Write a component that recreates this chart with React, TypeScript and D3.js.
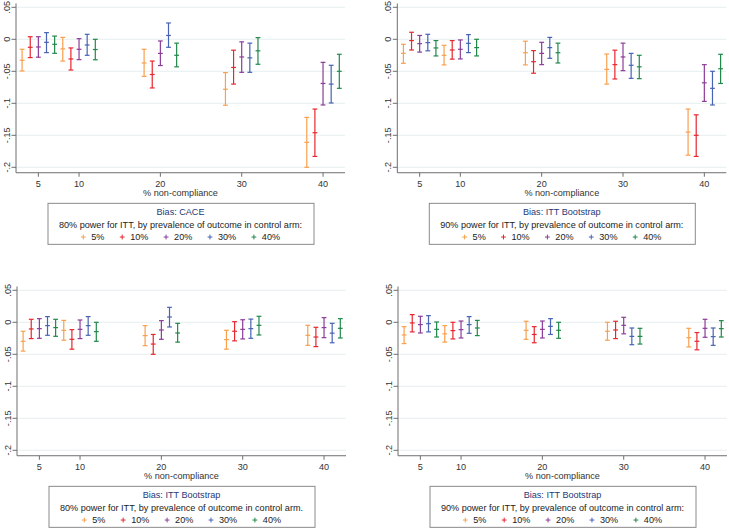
import * as d3 from 'd3'
import { useEffect, useRef } from 'react'

const nonCompliance = [5, 10, 20, 30, 40]
const seriesOffsets = [-2, -1, 0, 1, 2]
const prevalence = ['5%', '10%', '20%', '30%', '40%']
const colors = ['#f8a04e', '#e8262e', '#8c3c98', '#4862b4', '#21884b']
const yTicks = [0.05, 0, -0.05, -0.1, -0.15, -0.2]
const yTickLabels = ['.05', '0', '-.05', '-.1', '-.15', '-.2']

// rows = prevalence series (5%..40%), cols = % non-compliance (5,10,20,30,40)
const caceHi80 = [
  [-0.0156, 0.003, -0.0156, -0.052, -0.122],
  [0.004, -0.0135, -0.034, -0.017, -0.109],
  [0.004, 0.001, -0.0026, -0.004, -0.036],
  [0.0104, 0.0078, 0.0255, -0.006, -0.0406],
  [0.005, 0, -0.006, 0.0026, -0.0234],
]
const caceMid80 = [
  [-0.0328, -0.015, -0.037, -0.078, -0.161],
  [-0.0125, -0.0307, -0.055, -0.044, -0.146],
  [-0.012, -0.0156, -0.022, -0.0276, -0.069],
  [-0.0047, -0.0089, 0.006, -0.029, -0.07],
  [-0.0078, -0.016, -0.025, -0.018, -0.05],
]
const caceLo80 = [
  [-0.0495, -0.034, -0.058, -0.103, -0.2],
  [-0.0286, -0.048, -0.076, -0.07, -0.183],
  [-0.028, -0.0318, -0.041, -0.0516, -0.1026],
  [-0.0208, -0.025, -0.0125, -0.0516, -0.0995],
  [-0.0219, -0.032, -0.043, -0.039, -0.0766],
]

const bootHi90a = [
  [-0.0078, -0.0094, -0.003, -0.023, -0.109],
  [0.011, -0.002, -0.0177, -0.017, -0.118],
  [0.006, -0.001, -0.0047, -0.006, -0.0396],
  [0.0078, 0.0073, 0.003, -0.022, -0.05],
  [-0.002, 0, -0.006, -0.025, -0.0234],
]
const bootMid90a = [
  [-0.0219, -0.025, -0.021, -0.047, -0.145],
  [-0.002, -0.0167, -0.035, -0.0396, -0.15],
  [-0.0068, -0.0156, -0.022, -0.0276, -0.068],
  [-0.0052, -0.0063, -0.013, -0.0406, -0.0766],
  [-0.0135, -0.013, -0.021, -0.043, -0.046],
]
const bootLo90a = [
  [-0.0375, -0.04, -0.04, -0.07, -0.181],
  [-0.0167, -0.031, -0.053, -0.062, -0.183],
  [-0.02, -0.0307, -0.0396, -0.049, -0.097],
  [-0.018, -0.0208, -0.0297, -0.061, -0.1026],
  [-0.026, -0.026, -0.037, -0.0615, -0.069],
]

const bootHi80 = [
  [-0.014, 0.003, -0.0052, -0.0125, -0.0047],
  [0.0047, -0.0115, -0.019, 0.001, -0.0078],
  [0.0057, 0.0036, 0.0026, 0.004, 0.0073],
  [0.0089, 0.0089, 0.0234, 0.005, -0.0016],
  [0.0047, 0, -0.0016, 0.0094, 0.0057],
]
const bootMid80 = [
  [-0.0297, -0.0125, -0.0208, -0.027, -0.0203],
  [-0.0104, -0.0266, -0.034, -0.014, -0.023],
  [-0.0099, -0.011, -0.012, -0.011, -0.0083],
  [-0.0052, -0.0052, 0.0083, -0.0099, -0.017],
  [-0.0083, -0.0146, -0.0167, -0.0047, -0.0094],
]
const bootLo80 = [
  [-0.045, -0.028, -0.0365, -0.042, -0.036],
  [-0.0255, -0.042, -0.05, -0.029, -0.038],
  [-0.025, -0.0255, -0.0266, -0.026, -0.024],
  [-0.0203, -0.0203, -0.0073, -0.025, -0.032],
  [-0.0219, -0.0297, -0.031, -0.0198, -0.0245],
]

const bootHi90b = [
  [-0.0068, -0.0052, 0.0016, 0, -0.0094],
  [0.012, 0, -0.0068, 0.0016, -0.016],
  [0.0094, 0.002, 0.002, 0.0078, 0.0047],
  [0.0104, 0.0089, 0.0057, -0.0089, -0.0089],
  [0.0005, 0.003, 0, -0.0094, 0.0026],
]
const bootMid90b = [
  [-0.0198, -0.018, -0.0125, -0.014, -0.024],
  [-0.001, -0.013, -0.019, -0.012, -0.0297],
  [-0.0036, -0.0115, -0.011, -0.0047, -0.0094],
  [-0.0021, -0.0036, -0.0063, -0.022, -0.0224],
  [-0.011, -0.0089, -0.0125, -0.022, -0.0099],
]
const bootLo90b = [
  [-0.0333, -0.031, -0.0266, -0.028, -0.0385],
  [-0.015, -0.026, -0.032, -0.0255, -0.043],
  [-0.0167, -0.0245, -0.0245, -0.018, -0.0234],
  [-0.015, -0.0172, -0.019, -0.035, -0.036],
  [-0.023, -0.0208, -0.025, -0.034, -0.023],
]

const panelTitles = ['Bias: CACE', 'Bias: ITT Bootstrap', 'Bias: ITT Bootstrap', 'Bias: ITT Bootstrap']
const panelSubtitles = [
  '80% power for ITT, by prevalence of outcome in control arm:',
  '90% power for ITT, by prevalence of outcome in control arm:',
  '80% power for ITT, by prevalence of outcome in control arm.',
  '90% power for ITT, by prevalence of outcome in control arm:',
]

const FONT = '"Liberation Sans", Arial, sans-serif'

export default function App() {
  const ref = useRef<SVGSVGElement | null>(null)

  useEffect(() => {
    if (!ref.current) return
    document.body.style.margin = '0'
    const svg = d3.select(ref.current)
    svg.selectAll('*').remove()

    const panels = [
      { left: 16, zero: 39.3, hi: caceHi80, mid: caceMid80, lo: caceLo80 },
      { left: 397.3, zero: 39.3, hi: bootHi90a, mid: bootMid90a, lo: bootLo90a },
      { left: 17, zero: 322.3, hi: bootHi80, mid: bootMid80, lo: bootLo80 },
      { left: 398, zero: 322.3, hi: bootHi90b, mid: bootMid90b, lo: bootLo90b },
    ]
    const pw = 329
    const pxPerUnit = 640

    panels.forEach((p, pi) => {
      const g = svg.append('g')
      const x = d3.scaleLinear().domain([2.25, 42.7]).range([p.left, p.left + pw])
      const yTop = 0.056
      const yBot = -0.2085
      const y = d3.scaleLinear().domain([yTop, yBot])
        .range([p.zero - yTop * pxPerUnit, p.zero - yBot * pxPerUnit])
      const [r0, r1] = y.range()

      // gridlines
      g.selectAll('.grid').data(yTicks).enter().append('line')
        .attr('x1', p.left).attr('x2', p.left + pw)
        .attr('y1', d => y(d)).attr('y2', d => y(d))
        .attr('stroke', '#e6eff1').attr('stroke-width', 1)

      // y axis
      g.append('line').attr('x1', p.left).attr('x2', p.left)
        .attr('y1', r0).attr('y2', r1).attr('stroke', '#6e6e6e')
      g.selectAll('.ytick').data(yTicks).enter().append('line')
        .attr('x1', p.left - 4.5).attr('x2', p.left)
        .attr('y1', d => y(d)).attr('y2', d => y(d))
        .attr('stroke', '#6e6e6e')
      g.selectAll('.ylab').data(yTicks).enter().append('text')
        .attr('transform', d => `translate(${p.left - 6.5},${y(d)}) rotate(-90)`)
        .attr('text-anchor', 'middle')
        .attr('font-family', FONT).attr('font-size', 9.1).attr('fill', '#333')
        .text((_, i) => yTickLabels[i])

      // x axis
      g.append('line').attr('x1', p.left).attr('x2', p.left + pw)
        .attr('y1', r1).attr('y2', r1).attr('stroke', '#6e6e6e')
      g.selectAll('.xtick').data(nonCompliance).enter().append('line')
        .attr('x1', d => x(d)).attr('x2', d => x(d))
        .attr('y1', r1).attr('y2', r1 + 4)
        .attr('stroke', '#6e6e6e')
      g.selectAll('.xlab').data(nonCompliance).enter().append('text')
        .attr('x', d => x(d)).attr('y', r1 + 14)
        .attr('text-anchor', 'middle')
        .attr('font-family', FONT).attr('font-size', 9.1).attr('fill', '#333')
        .text(d => String(d))
      const cx = p.left + pw / 2
      g.append('text').attr('x', cx).attr('y', r1 + 22.8)
        .attr('text-anchor', 'middle')
        .attr('font-family', FONT).attr('font-size', 9.1).attr('fill', '#333')
        .text('% non-compliance')

      // error bars
      const cap = 2.4
      prevalence.forEach((_, si) => {
        const col = colors[si]
        nonCompliance.forEach((nc, gi) => {
          const xv = x(nc + seriesOffsets[si])
          const hi = y(p.hi[si][gi])
          const lo = y(p.lo[si][gi])
          const mid = y(p.mid[si][gi])
          const b = g.append('g').attr('stroke', col).attr('stroke-width', 1.2)
          b.append('line').attr('x1', xv).attr('x2', xv).attr('y1', hi).attr('y2', lo)
          b.append('line').attr('x1', xv - cap).attr('x2', xv + cap).attr('y1', hi).attr('y2', hi)
          b.append('line').attr('x1', xv - cap).attr('x2', xv + cap).attr('y1', lo).attr('y2', lo)
          b.append('line').attr('x1', xv - cap).attr('x2', xv + cap).attr('y1', mid).attr('y2', mid)
        })
      })

      // legend
      const bw = 266
      const bx = cx - bw / 2 + 0.5
      g.append('rect').attr('x', bx).attr('y', r1 + 30.6)
        .attr('width', bw).attr('height', 41)
        .attr('fill', 'white').attr('stroke', '#8a8a8a').attr('stroke-width', 1)
      g.append('text').attr('x', cx).attr('y', r1 + 42.6)
        .attr('text-anchor', 'middle')
        .attr('font-family', FONT).attr('font-size', 9.1).attr('fill', '#1d3a78')
        .text(panelTitles[pi])
      g.append('text').attr('x', cx).attr('y', r1 + 54.9)
        .attr('text-anchor', 'middle')
        .attr('font-family', FONT).attr('font-size', 9.1).attr('fill', '#222')
        .text(panelSubtitles[pi])

      const row = g.append('g')
      let cur = 0
      prevalence.forEach((lab, si) => {
        const mx = cur + 2.4
        row.append('line').attr('x1', mx - 2.4).attr('x2', mx + 2.4)
          .attr('y1', -3).attr('y2', -3).attr('stroke', colors[si])
        row.append('line').attr('x1', mx).attr('x2', mx)
          .attr('y1', -5.4).attr('y2', -0.6).attr('stroke', colors[si])
        const t = row.append('text').attr('x', mx + 8).attr('y', 0)
          .attr('font-family', FONT).attr('font-size', 9.1).attr('fill', '#222')
          .text(lab)
        const w = (t.node() as SVGTextElement).getComputedTextLength()
        cur = mx + 8 + w + (si < prevalence.length - 1 ? 15.3 : 0)
      })
      row.attr('transform', `translate(${cx - cur / 2},${r1 + 67.3})`)
    })
  }, [])

  return (
    <svg
      ref={ref}
      width={729}
      height={530}
      style={{ position: 'absolute', left: 0, top: 0, background: 'white' }}
    />
  )
}
